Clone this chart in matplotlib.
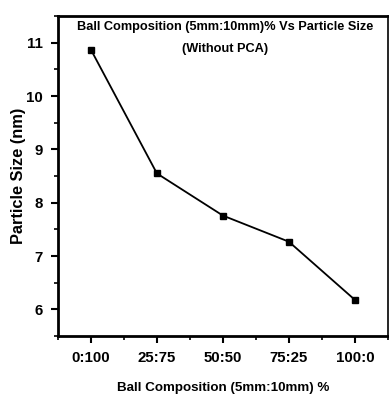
import matplotlib.pyplot as plt
from matplotlib.ticker import MultipleLocator

plt.rcParams["font.family"] = ["Liberation Sans", "DejaVu Sans"]
plt.rcParams["font.weight"] = "bold"

compositions = ["0:100", "25:75", "50:50", "75:25", "100:0"]
particle_size = [10.87, 8.55, 7.76, 7.27, 6.18]

fig = plt.figure(figsize=(3.89, 3.94), dpi=100)
ax = fig.add_axes([0.149, 0.147, 0.848, 0.812])

x = range(len(compositions))
ax.plot(x, particle_size, color="black", lw=1.3, marker="s", ms=5)

ax.set_xlim(-0.5, 4.5)
ax.set_ylim(5.5, 11.5)
ax.set_xticks(list(x))
ax.set_xticklabels(compositions)
ax.xaxis.set_minor_locator(MultipleLocator(0.5))
ax.yaxis.set_major_locator(MultipleLocator(1))
ax.yaxis.set_minor_locator(MultipleLocator(0.5))
ax.tick_params(which="major", direction="out", length=5, width=1.5, labelsize=10.8, pad=6)
ax.tick_params(which="minor", direction="out", length=3, width=1.2)
for lab in ax.get_xticklabels() + ax.get_yticklabels():
    lab.set_fontweight("bold")

for side in ["left", "bottom", "top"]:
    ax.spines[side].set_linewidth(2)
ax.spines["right"].set_linewidth(1.2)

ax.text(0.508, 0.965, "Ball Composition (5mm:10mm)% Vs Particle Size",
        transform=ax.transAxes, ha="center", va="center", fontsize=9.2, fontweight="bold")
ax.text(0.508, 0.897, "(Without PCA)",
        transform=ax.transAxes, ha="center", va="center", fontsize=9.2, fontweight="bold")

ax.set_xlabel("Ball Composition (5mm:10mm) %", fontsize=9.6, fontweight="bold", labelpad=12)
ax.set_ylabel("Particle Size (nm)", fontsize=11.8, fontweight="bold", labelpad=0)

fig.savefig("out.png", dpi=100)
